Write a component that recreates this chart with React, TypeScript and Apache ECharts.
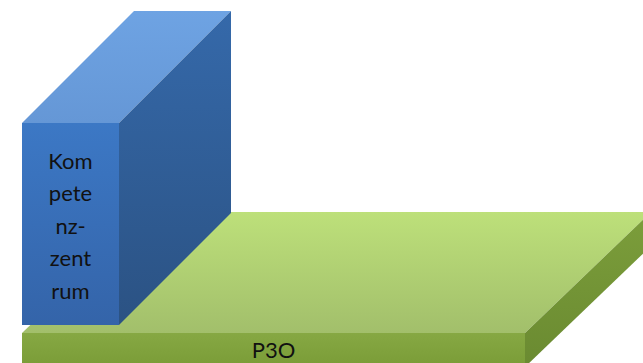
import React, { useEffect, useRef } from "react";
import * as echarts from "echarts";

// Diagram data: two extruded blocks (drawn back to front)
const blockNames = ["P3O", "Kompetenzzentrum"];
const blockLabels = ["P3O", "Kom\npete\nnz-\nzent\nrum"];
const blockLeft = [22, 22];
const blockRight = [525, 119];
const blockBottom = [-4, 38];
const blockTop = [30, 240];
const blockDepthX = [126, 112];
const blockDepthY = [121, 112];

const palettes = [
  {
    front: ["#86a843", "#7a9c37"],
    top: ["#bde07a", "#a2bf6b"],
    side: ["#7c9e3b", "#6a8a31"],
  },
  {
    front: ["#3c78c5", "#3464a9"],
    top: ["#6ea3e3", "#6597d6"],
    side: ["#3569aa", "#2b5283"],
  },
];

function grad(c: string[]) {
  return new echarts.graphic.LinearGradient(0, 0, 0, 1, [
    { offset: 0, color: c[0] },
    { offset: 1, color: c[1] },
  ]);
}

export default function App() {
  const ref = useRef<HTMLDivElement>(null);
  useEffect(() => {
    document.body.style.margin = "0";
    const chart = echarts.init(ref.current!, null, { renderer: "svg" });
    const data = blockNames.map((n, i) => ({
      name: n,
      value: [i, blockLeft[i], blockRight[i], blockBottom[i], blockTop[i], blockDepthX[i], blockDepthY[i]],
    }));
    chart.setOption({
      animation: false,
      grid: { left: 0, right: 0, top: 0, bottom: 0 },
      xAxis: { type: "value", min: 0, max: 643, show: false },
      yAxis: { type: "value", min: 0, max: 363, show: false },
      series: [
        {
          type: "custom",
          clip: false,
          data,
          renderItem: (params: any, api: any) => {
            const i = api.value(0);
            const x0 = api.value(1);
            const x1 = api.value(2);
            const y0 = api.value(3);
            const y1 = api.value(4);
            const dx = api.value(5);
            const dy = api.value(6);
            const p = (x: number, y: number) => api.coord([x, y]);
            const pal = palettes[i];
            const front = [p(x0, y0), p(x1, y0), p(x1, y1), p(x0, y1)];
            const top = [p(x0, y1), p(x1, y1), p(x1 + dx, y1 + dy), p(x0 + dx, y1 + dy)];
            const side = [p(x1, y0), p(x1 + dx, y0 + dy), p(x1 + dx, y1 + dy), p(x1, y1)];
            const c = p((x0 + x1) / 2, (y0 + y1) / 2);
            const isTall = i === 1;
            const textY = isTall ? c[1] + 1 : p(0, (Math.max(y0, 0) + y1) / 2)[1] + 1;
            return {
              type: "group",
              children: [
                { type: "polygon", shape: { points: top }, style: { fill: grad(pal.top) } },
                { type: "polygon", shape: { points: side }, style: { fill: grad(pal.side) } },
                { type: "polygon", shape: { points: front }, style: { fill: grad(pal.front) } },
                {
                  type: "text",
                  x: c[0],
                  y: textY,
                  style: {
                    text: blockLabels[i],
                    fill: "#111",
                    font: "22px Lato, 'Open Sans', sans-serif",
                    align: "center",
                    verticalAlign: "middle",
                    lineHeight: 32.5,
                  },
                },
              ],
            };
          },
        },
      ],
    });
    return () => chart.dispose();
  }, []);
  return <div ref={ref} style={{ width: 643, height: 363 }} />;
}
